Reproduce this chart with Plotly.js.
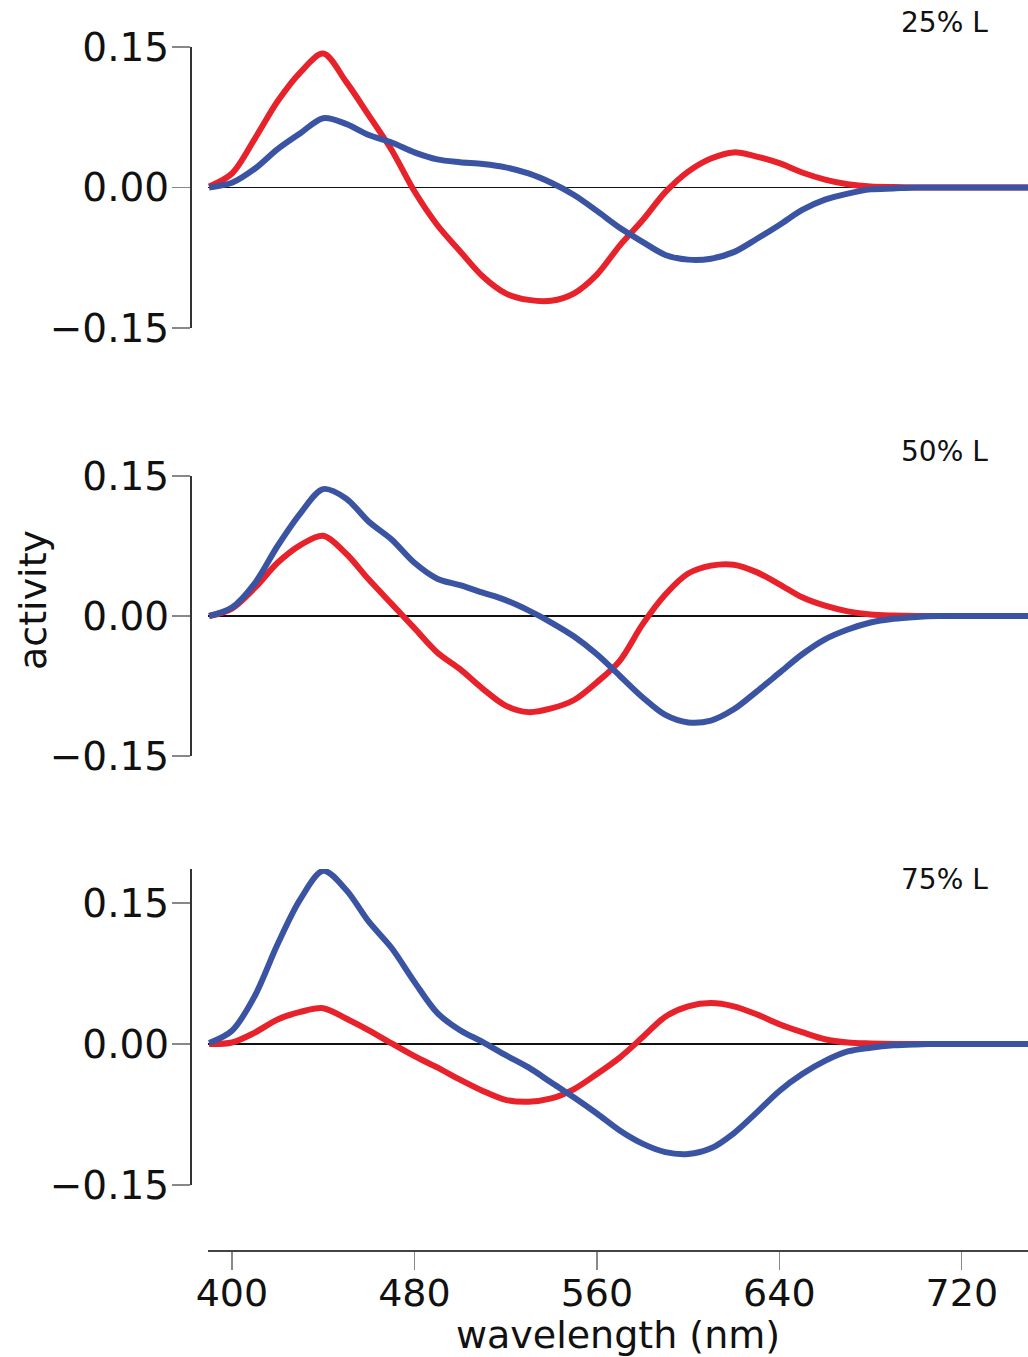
<!DOCTYPE html>
<html><head><meta charset="utf-8">
<script src="https://cdn.plot.ly/plotly-3.0.1.min.js"></script>
<style>html,body{margin:0;padding:0;background:#fff}#chart{width:1028px;height:1357px}</style>
</head><body><div id="chart"></div>
<script>
const wavelength = [390,400,410,420,430,440,450,460,470,480,490,500,510,520,530,540,550,560,570,580,590,600,610,620,630,640,650,660,670,680,690,700,710,720,730,740,750];
const xTickVals = [400,480,560,640,720];
const yTickVals = [-0.15, 0, 0.15];
const panelLabels = ['25% L','50% L','75% L'];

const red25  = [0.001,0.015,0.052,0.092,0.123,0.143,0.113,0.077,0.040,-0.004,-0.040,-0.068,-0.095,-0.113,-0.120,-0.121,-0.113,-0.093,-0.062,-0.035,-0.005,0.017,0.031,0.0375,0.033,0.026,0.016,0.0085,0.0035,0.001,0.0005,0,0,0,0,0,0];
const blue25 = [0,0.005,0.020,0.041,0.058,0.074,0.068,0.056,0.048,0.0375,0.030,0.027,0.025,0.0215,0.015,0.005,-0.008,-0.025,-0.043,-0.058,-0.072,-0.077,-0.076,-0.069,-0.055,-0.040,-0.024,-0.013,-0.0065,-0.002,-0.001,0,0,0,0,0,0];

const red50  = [0,0.008,0.030,0.057,0.076,0.086,0.067,0.039,0.013,-0.013,-0.039,-0.057,-0.078,-0.096,-0.103,-0.099,-0.090,-0.071,-0.048,-0.009,0.023,0.0455,0.054,0.055,0.047,0.034,0.020,0.011,0.005,0.0016,0.0005,0,0,0,0,0,0];
const blue50 = [0,0.009,0.035,0.075,0.110,0.136,0.126,0.101,0.082,0.057,0.040,0.033,0.025,0.017,0.006,-0.007,-0.022,-0.041,-0.064,-0.087,-0.106,-0.114,-0.112,-0.100,-0.081,-0.061,-0.041,-0.025,-0.0145,-0.007,-0.003,-0.001,0,0,0,0,0];

const red75  = [0,0.0015,0.012,0.026,0.034,0.038,0.027,0.0145,0.0005,-0.013,-0.025,-0.038,-0.050,-0.0595,-0.0615,-0.058,-0.048,-0.032,-0.0145,0.007,0.029,0.040,0.0435,0.040,0.0315,0.021,0.0125,0.005,0.0015,0.0005,0,0,0,0,0,0,0];
const blue75 = [0.001,0.014,0.051,0.106,0.154,0.184,0.164,0.130,0.102,0.066,0.033,0.0145,0.002,-0.012,-0.025,-0.041,-0.057,-0.074,-0.092,-0.106,-0.115,-0.117,-0.111,-0.095,-0.073,-0.050,-0.032,-0.018,-0.008,-0.004,-0.0015,-0.0005,0,0,0,0,0];

const RED = '#e8222b', BLUE = '#3a54a3';
const FONT = 'DejaVu Sans, sans-serif';
const series = [[red25, blue25], [red50, blue50], [red75, blue75]];
const yIds = ['y', 'y2', 'y3'];

const traces = [];
series.forEach((pair, i) => {
  traces.push({x: wavelength, y: pair[0], yaxis: yIds[i], xaxis: 'x', mode: 'lines',
    line: {color: RED, width: 6, shape: 'spline', smoothing: 0.9}, hoverinfo: 'skip'});
  traces.push({x: wavelength, y: pair[1], yaxis: yIds[i], xaxis: 'x', mode: 'lines',
    line: {color: BLUE, width: 6, shape: 'spline', smoothing: 0.9}, hoverinfo: 'skip'});
});

function yAxis(domain, range) {
  return {
    domain: domain, range: range, anchor: 'free', position: 0,
    showline: true, linecolor: '#333', linewidth: 1.5,
    ticks: 'outside', ticklen: 18, tickcolor: '#888', tickwidth: 1.3,
    tickvals: yTickVals, tickformat: '.2f', ticklabelstandoff: -5,
    tickfont: {family: FONT, size: 39, color: '#111'},
    zeroline: true, zerolinecolor: '#111', zerolinewidth: 1.5,
    showgrid: false, fixedrange: true
  };
}

const H = 1203;
const frac = px => (1250 - px) / H;
const W = 838;
const fx = px => (px - 190) / W;

const layout = {
  width: 1028, height: 1357,
  margin: {l: 190, r: 0, t: 47, b: 107},
  paper_bgcolor: '#fff', plot_bgcolor: '#fff',
  showlegend: false,
  font: {family: FONT, color: '#111'},
  xaxis: {
    domain: [18 / W, 1], range: [389.5, 749], anchor: 'free', position: 0,
    showline: true, linecolor: '#444', linewidth: 1.5,
    ticks: 'outside', ticklen: 18, tickcolor: '#888', tickwidth: 1.3,
    tickvals: xTickVals, ticklabelstandoff: -9,
    tickfont: {family: FONT, size: 38, color: '#111'},
    showgrid: false, zeroline: false,
    title: {text: 'wavelength (nm)', font: {family: FONT, size: 38, color: '#111'}, standoff: 0}
  },
  yaxis:  yAxis([frac(328), frac(47)], [-0.15, 0.15]),
  yaxis2: yAxis([frac(756), frac(476)], [-0.15, 0.15]),
  yaxis3: yAxis([frac(1185), frac(869)], [-0.15, 0.186]),
  annotations: [
    {text: panelLabels[0], xref: 'paper', yref: 'paper', x: fx(990), y: frac(22), xanchor: 'right', yanchor: 'middle', showarrow: false, font: {family: FONT, size: 28, color: '#111'}},
    {text: panelLabels[1], xref: 'paper', yref: 'paper', x: fx(990), y: frac(451), xanchor: 'right', yanchor: 'middle', showarrow: false, font: {family: FONT, size: 28, color: '#111'}},
    {text: panelLabels[2], xref: 'paper', yref: 'paper', x: fx(990), y: frac(879), xanchor: 'right', yanchor: 'middle', showarrow: false, font: {family: FONT, size: 28, color: '#111'}},
    {text: 'activity', xref: 'paper', yref: 'paper', x: fx(33), y: frac(600), xanchor: 'center', yanchor: 'middle', textangle: -90, showarrow: false, font: {family: FONT, size: 38, color: '#111'}}
  ]
};

Plotly.newPlot('chart', traces, layout, {displayModeBar: false, staticPlot: true});
</script>
</body></html>
